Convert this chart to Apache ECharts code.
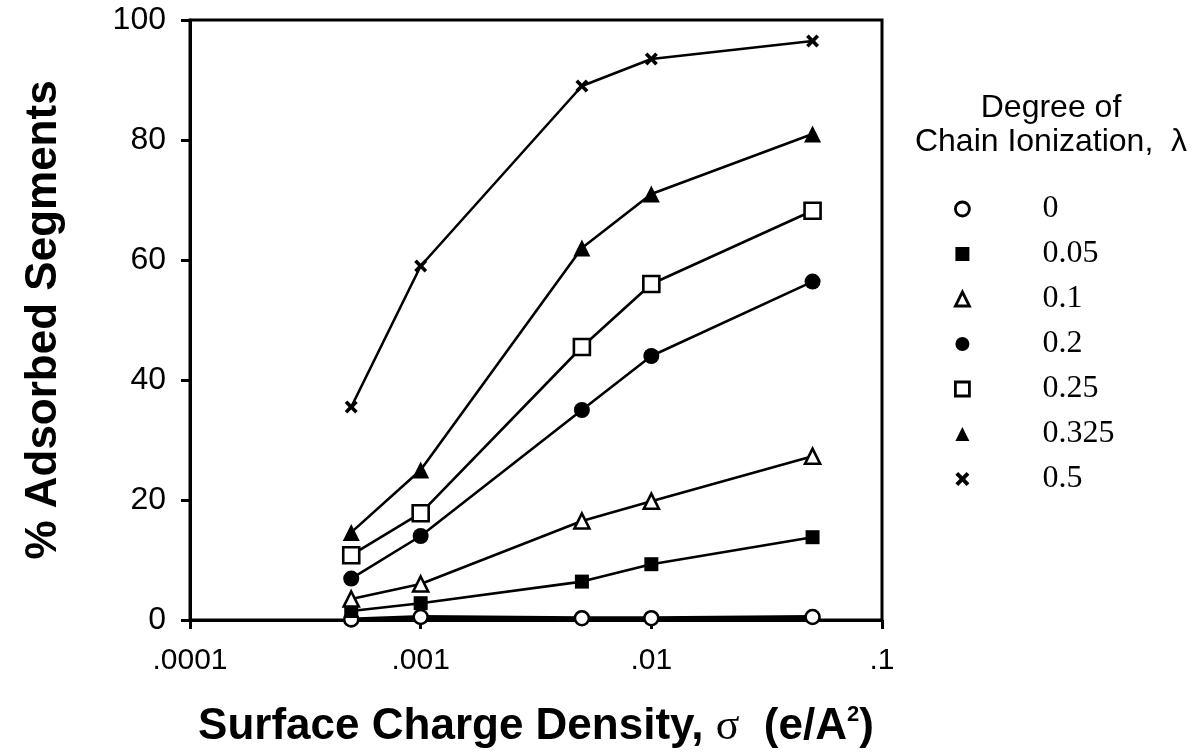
<!DOCTYPE html>
<html><head><meta charset="utf-8">
<script src="https://cdn.jsdelivr.net/npm/echarts@6/dist/echarts.min.js"></script>
<style>html,body{margin:0;padding:0;background:#fff}#c{width:1200px;height:754px}</style>
</head><body><div id="c"></div>
<script>
var xValues = [0.0005, 0.001, 0.005, 0.01, 0.05];
var seriesNames = ['0', '0.05', '0.1', '0.2', '0.25', '0.325', '0.5'];
var s0 = [0.1, 0.5, 0.3, 0.3, 0.5];
var s005 = [1.5, 2.8, 6.4, 9.3, 13.8];
var s01 = [3.5, 6.0, 16.5, 19.8, 27.3];
var s02 = [6.9, 14.0, 35.0, 44.0, 56.4];
var s025 = [10.8, 17.8, 45.5, 56.0, 68.2];
var s0325 = [14.6, 25.0, 62.0, 71.0, 81.0];
var s05 = [35.5, 59.0, 89.0, 93.5, 96.5];
var xTickLabels = {'0.0001': '.0001', '0.001': '.001', '0.01': '.01', '0.1': '.1'};

var allValues = [s0, s005, s01, s02, s025, s0325, s05];
var crossPath = 'path://M2,0 L5,3 L8,0 L10,2 L7,5 L10,8 L8,10 L5,7 L2,10 L0,8 L3,5 L0,2 Z';
var symbols = ['circle', 'rect', 'triangle', 'circle', 'rect', 'triangle', crossPath];
var filled = [false, true, false, true, false, true, true];
var sizes = [14, 14, 15, 16, 16, 17, 13];

var SANS = 'Liberation Sans, Arial, Helvetica, sans-serif';
var SERIF = 'Liberation Serif, Times New Roman, serif';

var series = seriesNames.map(function (n, i) {
  return {
    name: n, type: 'line',
    data: xValues.map(function (x, j) { return [x, allValues[i][j]]; }),
    symbol: symbols[i], symbolSize: sizes[i],
    showAllSymbol: true,
    lineStyle: { color: '#000', width: i === 0 ? 4 : 2.6 },
    itemStyle: { color: filled[i] ? '#000' : '#fff', borderColor: '#000', borderWidth: filled[i] ? 0 : 2.6, opacity: 1 },
    z: 2 + i
  };
});

var chart = echarts.init(document.getElementById('c'));
chart.setOption({
  backgroundColor: '#fff',
  animation: false,
  grid: { left: 190, right: 318, top: 20, bottom: 134, show: true, borderColor: '#000', borderWidth: 3, backgroundColor: 'transparent' },
  title: {
    text: 'Degree of\nChain Ionization,  λ',
    left: 1046, top: 86, textAlign: 'center',
    textStyle: { fontFamily: SANS, fontSize: 32, fontWeight: 'normal', color: '#000', lineHeight: 34 }
  },
  legend: {
    orient: 'vertical', left: 949, top: 188,
    itemWidth: 14, itemHeight: 14, itemGap: 13,
    data: seriesNames.map(function (n, i) {
      return {
        name: n, icon: symbols[i],
        itemStyle: { color: filled[i] ? '#000' : '#fff', borderColor: '#000', borderWidth: filled[i] ? 0 : 2.8 }
      };
    }),
    formatter: function (n) { return '{a|' + n + '}'; },
    textStyle: {
      color: '#000',
      rich: { a: { fontFamily: SERIF, fontSize: 32, padding: [0, 0, 0, 68], lineHeight: 34, color: '#000' } }
    }
  },
  xAxis: {
    type: 'log', logBase: 10, min: 0.0001, max: 0.1,
    name: '{b|Surface Charge Density, }{s|σ}{b|  (e/A}{sup|2}{b|)}',
    nameLocation: 'middle', nameGap: 84,
    nameTextStyle: {
      rich: {
        b: { fontFamily: SANS, fontSize: 44, fontWeight: 'bold', color: '#000' },
        s: { fontFamily: SERIF, fontSize: 44, color: '#000' },
        sup: { fontFamily: SANS, fontSize: 22, fontWeight: 'bold', color: '#000', verticalAlign: 'top', padding: [0, 0, 24, 0] }
      }
    },
    axisLine: { lineStyle: { color: '#000', width: 3 } },
    axisTick: { show: true, inside: false, length: 9, lineStyle: { color: '#000', width: 3 } },
    minorTick: { show: false },
    splitLine: { show: false },
    axisLabel: {
      margin: 26, color: '#000', fontSize: 30, fontFamily: SANS,
      formatter: function (v) {
        var k = String(+v.toPrecision(1));
        return xTickLabels[k] !== undefined ? xTickLabels[k] : '';
      }
    }
  },
  yAxis: {
    type: 'value', min: 0, max: 100, interval: 20,
    name: '% Adsorbed Segments',
    nameLocation: 'middle', nameRotate: 90, nameGap: 124,
    nameTextStyle: { fontFamily: SANS, fontSize: 44, fontWeight: 'bold', color: '#000' },
    axisLine: { lineStyle: { color: '#000', width: 3 } },
    axisTick: { show: true, inside: false, length: 9, lineStyle: { color: '#000', width: 3 } },
    splitLine: { show: false },
    axisLabel: { margin: 24, color: '#000', fontSize: 32, fontFamily: SANS }
  },
  series: series
});
</script></body></html>
